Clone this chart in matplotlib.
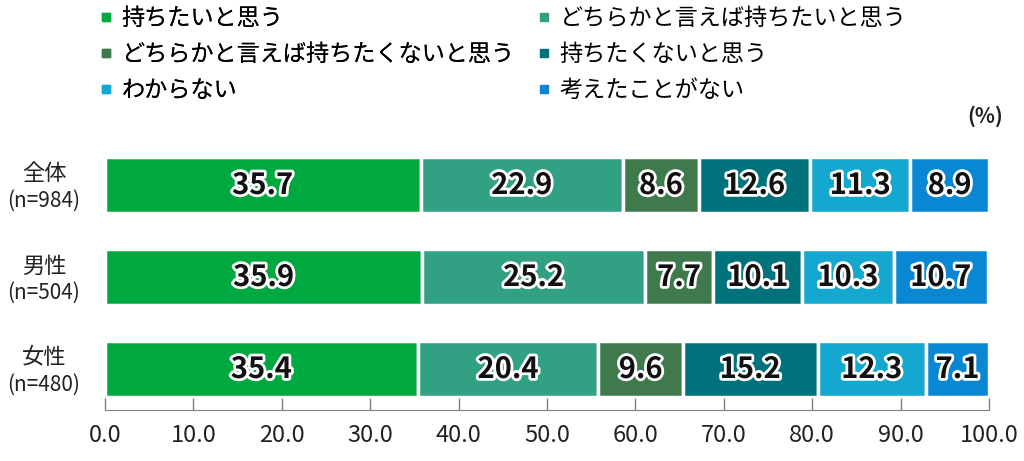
import matplotlib
matplotlib.use("Agg")
import matplotlib.pyplot as plt
import matplotlib.patheffects as pe
from matplotlib.lines import Line2D
from matplotlib.transforms import blended_transform_factory

plt.rcParams['font.family'] = ['Noto Sans CJK JP', 'DejaVu Sans']

# data
groups = ['全体', '男性', '女性']
sizes = ['(n=984)', '(n=504)', '(n=480)']
answers = ['持ちたいと思う', 'どちらかと言えば持ちたいと思う',
           'どちらかと言えば持ちたくないと思う', '持ちたくないと思う',
           'わからない', '考えたことがない']
values = [
    [35.7, 22.9, 8.6, 12.6, 11.3, 8.9],
    [35.9, 25.2, 7.7, 10.1, 10.3, 10.7],
    [35.4, 20.4, 9.6, 15.2, 12.3, 7.1],
]
colors = ['#00a93f', '#31a083', '#3f7a4c', '#00727c', '#14a7cf', '#0a87d2']
xticks = [0, 10, 20, 30, 40, 50, 60, 70, 80, 90, 100]

fig = plt.figure(figsize=(10.24, 4.61), dpi=100)
ax = fig.add_axes([105/1024, 1 - 410/461, 884/1024, 262/461])

ypos = list(range(len(groups)))
for j in range(len(answers)):
    lefts = [sum(row[:j]) for row in values]
    widths = [row[j] for row in values]
    ax.barh(ypos, widths, left=lefts, height=0.6, color=colors[j],
            edgecolor='white', linewidth=2.5)
    for i in ypos:
        ax.text(lefts[i] + widths[i] / 2, i, f'{widths[i]:.1f}',
                ha='center', va='center', fontsize=21, fontweight='bold',
                color='#111111',
                path_effects=[pe.withStroke(linewidth=4, foreground='white')])

ax.set_xlim(0, 100)
ax.set_ylim(2 + 41/92, -37/92)
ax.set_yticks([])
ax.set_xticks(xticks)
ax.set_xticklabels([f'{t:.1f}' for t in xticks], fontsize=17, color='#222222')
ax.tick_params(axis='x', direction='in', length=9, width=1, color='#808080', pad=10)
for s in ['top', 'right', 'left']:
    ax.spines[s].set_visible(False)
ax.spines['bottom'].set_color('#808080')

trans = blended_transform_factory(ax.transAxes, ax.transData)
for i in ypos:
    ax.text(-61/884, i - 0.12, groups[i], transform=trans, ha='center', va='center',
            fontsize=16, color='#222222')
    ax.text(-61/884, i + 0.17, sizes[i], transform=trans, ha='center', va='center',
            fontsize=15, color='#222222')

fig.text(985/1024, 1 - 116/461, '(%)', ha='center', va='center', fontsize=15,
         fontweight='bold', color='#222222')

handles = [Line2D([], [], marker='s', linestyle='none', markersize=6,
                  color=c) for c in colors]
leg1 = fig.legend([handles[0], handles[2], handles[4]],
                  [answers[0], answers[2], answers[4]],
                  loc='upper left', bbox_to_anchor=(74/1024, 1.03), frameon=False,
                  fontsize=16.7, handletextpad=0.15, labelspacing=0.56,
                  handlelength=1.0)
leg2 = fig.legend([handles[1], handles[3], handles[5]],
                  [answers[1], answers[3], answers[5]],
                  loc='upper left', bbox_to_anchor=(512/1024, 1.03), frameon=False,
                  fontsize=16.7, handletextpad=0.15, labelspacing=0.56,
                  handlelength=1.0)
fig.add_artist(leg1)

fig.savefig('out.png', dpi=100)
